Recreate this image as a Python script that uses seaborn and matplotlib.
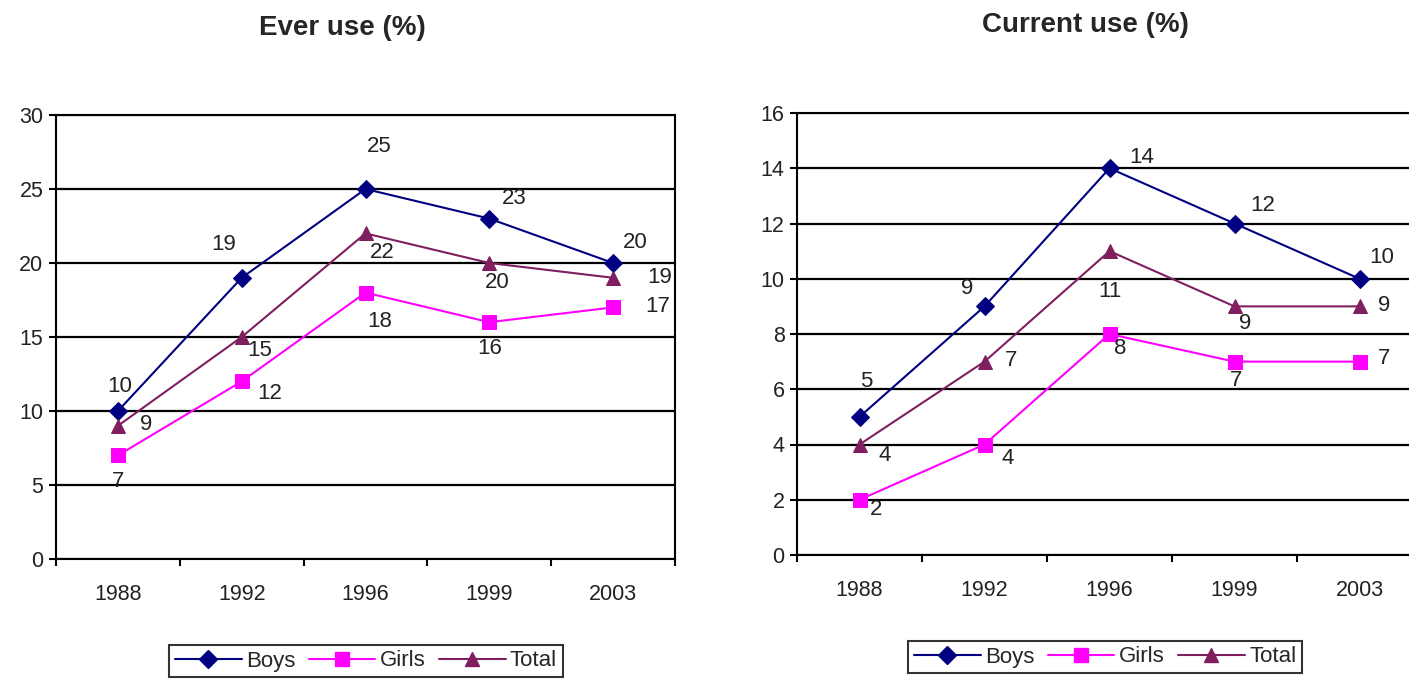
import pandas as pd
import matplotlib.pyplot as plt
import seaborn as sns
from matplotlib.lines import Line2D
from matplotlib.ticker import FixedLocator

# Data
years = ['1988', '1992', '1996', '1999', '2003']
groups = ['Boys', 'Girls', 'Total']
ever_boys = [10, 19, 25, 23, 20]
ever_girls = [7, 12, 18, 16, 17]
ever_total = [9, 15, 22, 20, 19]
cur_boys = [5, 9, 14, 12, 10]
cur_girls = [2, 4, 8, 7, 7]
cur_total = [4, 7, 11, 9, 9]

rows = []
for panel, series in [('ever', [ever_boys, ever_girls, ever_total]),
                      ('current', [cur_boys, cur_girls, cur_total])]:
    for g, vals in zip(groups, series):
        for y, v in zip(years, vals):
            rows.append({'panel': panel, 'group': g, 'year': y, 'value': v})
df = pd.DataFrame(rows)
df['x'] = pd.Categorical(df['year'], categories=years).codes

sns.set_theme(style="white")
plt.rcParams['font.family'] = ['Liberation Sans', 'DejaVu Sans']

colors = {'Boys': '#000080', 'Girls': '#FF00FF', 'Total': '#7F1F5F'}
markers = {'Boys': 'D', 'Girls': 's', 'Total': '^'}
msize = {'Boys': 9, 'Girls': 10.5, 'Total': 10.5}

# label offsets in pixels (dx, dy) per panel/group/point
offsets = {
    'ever': {
        'Boys': [(2, 25), (-18, 33), (14, 42), (25, 20), (22, 20)],
        'Girls': [(0, -26), (28, -12), (14, -29), (0, -26), (45, 1)],
        'Total': [(28, 1), (18, -13), (17, -19), (8, -20), (47, 0)],
    },
    'current': {
        'Boys': [(7, 35), (-17, 18), (32, 11), (28, 18), (22, 21)],
        'Girls': [(17, -10), (23, -14), (11, -14), (2, -19), (25, 3)],
        'Total': [(25, -11), (27, 1), (0, -40), (11, -17), (25, 1)],
    },
}

fig = plt.figure(figsize=(14.09, 6.80), dpi=100)
W, H = 1409, 680
ax1 = fig.add_axes([56 / W, 1 - 559 / H, 619 / W, 444 / H])
ax2 = fig.add_axes([797 / W, 1 - 555 / H, 625 / W, 442 / H])

for ax, panel, ymax, ystep in [(ax1, 'ever', 30, 5), (ax2, 'current', 16, 2)]:
    sub = df[df['panel'] == panel]
    for g in groups:
        d = sub[sub['group'] == g]
        sns.lineplot(data=d, x='x', y='value', ax=ax, color=colors[g],
                     marker=markers[g], markersize=msize[g],
                     markeredgecolor=colors[g], linewidth=1.5, legend=False)
        for (_, r), (dx, dy) in zip(d.iterrows(), offsets[panel][g]):
            ax.annotate(str(r['value']), (r['x'], r['value']),
                        xytext=(dx, dy), textcoords='offset pixels',
                        ha='center', va='center', fontsize=16, color='#222222')
    ax.set_xlim(-0.5, 4.5)
    ax.set_ylim(0, ymax)
    ax.set_yticks(range(0, ymax + 1, ystep))
    ax.set_xticks(range(len(years)))
    ax.set_xticklabels(years)
    ax.xaxis.set_minor_locator(FixedLocator([i - 0.5 for i in range(len(years) + 1)]))
    ax.tick_params(axis='x', which='major', length=0, pad=18, labelsize=15.5,
                   labelcolor='#222222')
    ax.tick_params(axis='x', which='minor', length=5, width=1.5, color='black', bottom=True)
    ax.tick_params(axis='y', length=5, width=1.5, color='black', left=True, pad=4,
                   labelsize=15.5, labelcolor='#222222')
    ax.yaxis.grid(True, color='black', linewidth=1.6)
    ax.set_axisbelow(True)
    ax.set_xlabel('')
    ax.set_ylabel('')
    for s in ax.spines.values():
        s.set_color('black')
        s.set_linewidth(1.5)

fig.text(342 / W, 1 - 28 / H, 'Ever use (%)', ha='center', va='center',
         fontsize=20, fontweight='bold')
fig.text(1085 / W, 1 - 25 / H, 'Current use (%)', ha='center', va='center',
         fontsize=20, fontweight='bold')

handles = [Line2D([0], [0], color=colors[g], marker=markers[g], markersize=msize[g],
                  linewidth=1.5, label=g) for g in groups]
for cx, cy in [(366 / W, 1 - 661 / H), (1105 / W, 1 - 657 / H)]:
    leg = fig.legend(handles=handles, loc='center', bbox_to_anchor=(cx, cy), ncol=3,
                     frameon=True, fancybox=False, fontsize=16, handlelength=3.0,
                     handletextpad=0.2, columnspacing=0.6, borderpad=0.25)
    leg.get_frame().set_edgecolor('black')
    leg.get_frame().set_linewidth(1.5)

fig.savefig('out.png', dpi=100)
